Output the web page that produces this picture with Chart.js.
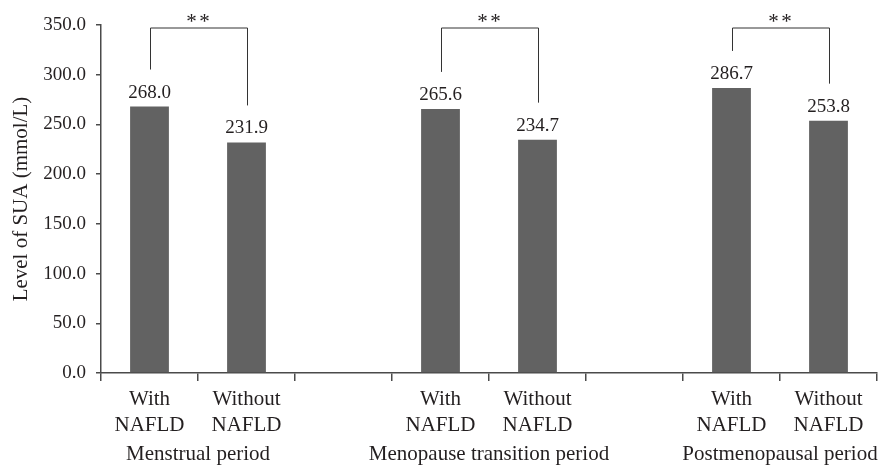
<!DOCTYPE html>
<html>
<head>
<meta charset="utf-8">
<script src="https://cdn.jsdelivr.net/npm/chart.js@4"></script>
<style>
  html, body { margin: 0; padding: 0; background: #ffffff; }
</style>
</head>
<body>
<canvas id="c" width="882" height="466"></canvas>
<script>
// Serum uric acid by NAFLD status across three menopausal stages
const categories = [
  ['With', 'NAFLD'], ['Without', 'NAFLD'], '',
  ['With', 'NAFLD'], ['Without', 'NAFLD'], '',
  ['With', 'NAFLD'], ['Without', 'NAFLD']
];
const suaLevels = [268.0, 231.9, null, 265.6, 234.7, null, 286.7, 253.8];
const periods = ['Menstrual period', 'Menopause transition period', 'Postmenopausal period'];
const periodPairs = [[0, 1], [3, 4], [6, 7]];
const significance = ['**', '**', '**'];
const yAxisTitle = 'Level of SUA (mmol/L)';

const SERIF = '"Liberation Serif", "DejaVu Serif", serif';
const TEXT = '#231f20';
const AXIS = '#4a4a4a';

const annotations = {
  id: 'annotations',
  afterDatasetsDraw(chart) {
    const ctx = chart.ctx;
    const meta = chart.getDatasetMeta(0);
    const x = chart.scales.x;
    const y = chart.scales.y;
    ctx.save();
    // value labels above bars
    ctx.fillStyle = TEXT;
    ctx.font = '19px ' + SERIF;
    ctx.textAlign = 'center';
    ctx.textBaseline = 'alphabetic';
    suaLevels.forEach((v, i) => {
      if (v === null) return;
      const bar = meta.data[i];
      ctx.fillText(v.toFixed(1), bar.x, bar.y - 9);
    });
    // significance brackets
    const topY = y.getPixelForValue(y.max) + 3;
    ctx.strokeStyle = '#333333';
    ctx.lineWidth = 1;
    periodPairs.forEach((pair, k) => {
      const a = meta.data[pair[0]];
      const b = meta.data[pair[1]];
      const xa = Math.round(a.x) + 0.5;
      const xb = Math.round(b.x) + 0.5;
      ctx.beginPath();
      ctx.moveTo(xa, a.y - 37);
      ctx.lineTo(xa, topY);
      ctx.lineTo(xb, topY);
      ctx.lineTo(xb, b.y - 37);
      ctx.stroke();
      // stars, spaced apart
      ctx.font = '21px ' + SERIF;
      const stars = significance[k].split('');
      const gap = 13;
      const cx = (a.x + b.x) / 2;
      stars.forEach((s, j) => {
        ctx.fillText(s, cx + (j - (stars.length - 1) / 2) * gap, topY);
      });
    });
    // period labels under each pair
    ctx.font = '21px ' + SERIF;
    periodPairs.forEach((pair, k) => {
      const cx = (x.getPixelForValue(pair[0]) + x.getPixelForValue(pair[1])) / 2;
      ctx.fillText(periods[k], cx, 460);
    });
    ctx.restore();
  }
};

new Chart(document.getElementById('c'), {
  type: 'bar',
  data: {
    labels: categories,
    datasets: [{
      data: suaLevels,
      backgroundColor: '#626262',
      borderWidth: 0,
      categoryPercentage: 1,
      barPercentage: 0.4
    }]
  },
  options: {
    responsive: false,
    animation: false,
    devicePixelRatio: 1,
    layout: { padding: { top: 25, right: 5, left: 0, bottom: 0 } },
    plugins: { legend: { display: false }, tooltip: { enabled: false } },
    scales: {
      x: {
        offset: true,
        grid: { display: true, offset: true, drawOnChartArea: false, drawTicks: true, tickLength: 8, color: AXIS, lineWidth: 1.5 },
        border: { display: true, color: AXIS, width: 1.5 },
        ticks: { color: TEXT, font: { family: SERIF, size: 21, lineHeight: 1.25 }, padding: 5, maxRotation: 0, autoSkip: false },
        afterFit(scale) { scale.height = 93; }
      },
      y: {
        min: 0, max: 350,
        grid: { display: true, drawOnChartArea: false, drawTicks: true, tickLength: 5, color: AXIS, lineWidth: 1.5 },
        border: { display: true, color: AXIS, width: 1.5 },
        ticks: { stepSize: 50, color: TEXT, font: { family: SERIF, size: 19 }, padding: 10, callback: v => v.toFixed(1) },
        title: { display: true, text: yAxisTitle, color: TEXT, font: { family: SERIF, size: 21 }, padding: { top: 9, bottom: 0 } },
        afterFit(scale) { scale.width = 101; }
      }
    }
  },
  plugins: [annotations]
});
</script>
</body>
</html>
